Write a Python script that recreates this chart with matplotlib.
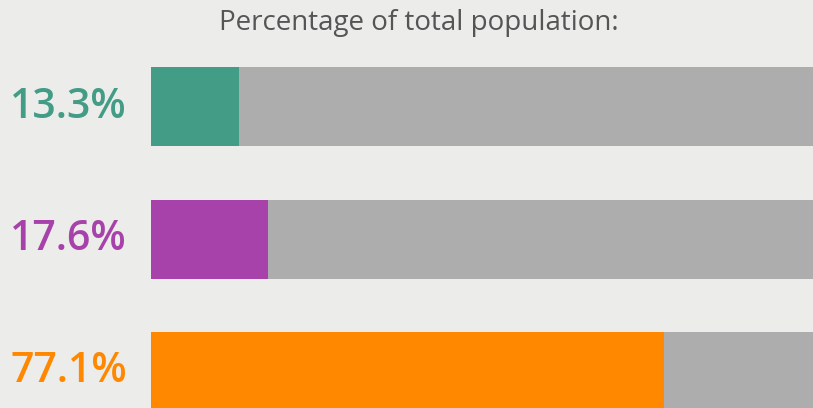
import matplotlib.pyplot as plt

# data
labels = ["13.3%", "17.6%", "77.1%"]
values = [13.3, 17.6, 77.1]
colors = ["#429c86", "#a842ab", "#ff8800"]
title = "Percentage of total population:"

BG = "#ececea"
TRACK = "#adadad"

plt.rcParams["font.family"] = ["Open Sans", "DejaVu Sans"]

W, H = 813, 408
fig = plt.figure(figsize=(W / 100, H / 100), dpi=100, facecolor=BG)

# axes: 0..100 maps to pixel 151..816 (track runs past the right edge)
ax = fig.add_axes([151 / W, 0, 665 / W, 1])
ax.set_facecolor(BG)
ax.set_xlim(0, 100)
pitch = 132.5
ax.set_ylim((H - 106.5) / pitch, -106.5 / pitch)
ax.axis("off")

ypos = list(range(len(values)))
bh = 79 / pitch
ax.barh(ypos, [100] * len(values), height=bh, color=TRACK, zorder=1)
ax.barh(ypos, values, height=bh, color=colors, zorder=2)

for y, lab, c in zip(ypos, labels, colors):
    ax.text(-3.6, y, lab, ha="right", va="center", color=c,
            fontsize=29.5, fontweight="semibold", clip_on=False)

fig.text(419 / W, 1 - 23 / H, title, ha="center", va="center",
         color="#555555", fontsize=20)

fig.savefig("out.png", dpi=100, facecolor=BG)
